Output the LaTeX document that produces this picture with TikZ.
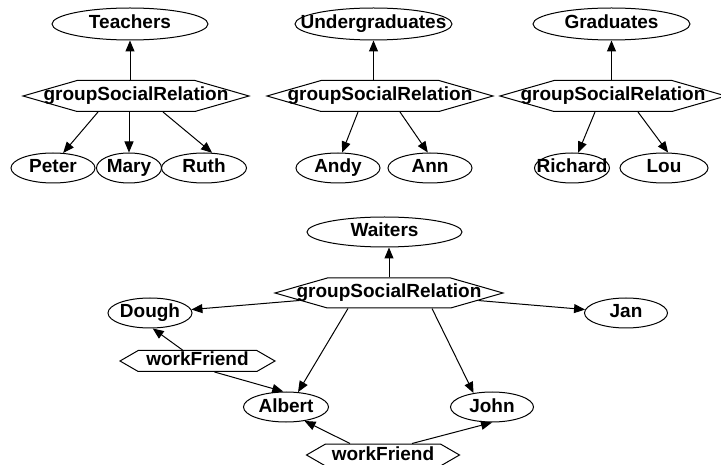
\documentclass[tikz,border=0pt]{standalone}
\usepackage{fontspec}
\setmainfont{Liberation Sans}
\usetikzlibrary{shapes.geometric, shapes.symbols, arrows.meta}
\newcommand{\nm}[1]{\makebox[0pt]{#1}}
\tikzstyle{class} = [ellipse, draw, line width=1pt, inner sep=0pt, minimum width=156pt, minimum height=32pt, text height=14pt, text depth=4pt, font=\fontsize{19}{22}\selectfont\bfseries]
\tikzstyle{member} = [class, minimum width=84pt, minimum height=30pt]
\tikzstyle{relation} = [signal, signal to=west and east, signal pointer angle=32, draw, line width=1pt, inner sep=0pt, minimum width=226pt, minimum height=31pt, text height=14pt, text depth=4pt, font=\fontsize{19}{22}\selectfont\bfseries]
\tikzstyle{friend} = [relation, signal pointer angle=60, minimum width=155pt, minimum height=21pt]
\tikzstyle{arrow} = [line width=1pt, -{Triangle[length=11pt, width=9pt]}]

\begin{document}
\begin{tikzpicture}[x=1pt, y=-1pt]
    \useasboundingbox (0,0) rectangle (721,465);
    % teachers
    \node (teachers)[class] at (130,24) {\nm{Teachers}};
    \node (gsrT)[relation] at (136,96) {\nm{groupSocialRelation}};
    \node (peter)[member] at (53,168) {\nm{Peter}};
    \node (mary)[member, minimum width=65pt] at (129,168) {\nm{Mary}};
    \node (ruth)[member, minimum width=85pt] at (204,168) {\nm{Ruth}};
    \draw [arrow] (gsrT.north -| teachers) -- (teachers);
    \draw [arrow] ([xshift=-38pt]gsrT.south) -- (peter.56);
    \draw [arrow] (gsrT.south -| mary) -- (mary);
    \draw [arrow] ([xshift=27pt]gsrT.south) -- (ruth.62);
    % undergraduates
    \node (under)[class, minimum width=157pt] at (373.5,24) {\nm{Undergraduates}};
    \node (gsrU)[relation] at (380,96) {\nm{groupSocialRelation}};
    \node (andy)[member] at (338,168) {\nm{Andy}};
    \node (ann)[member] at (430,168) {\nm{Ann}};
    \draw [arrow] (gsrU.north -| under) -- (under);
    \draw [arrow] ([xshift=-22pt]gsrU.south) -- (andy.75);
    \draw [arrow] ([xshift=20pt]gsrU.south) -- (ann.98);
    % graduates
    \node (grad)[class, minimum width=157pt] at (611.5,24) {\nm{Graduates}};
    \node (gsrG)[relation] at (613,96) {\nm{groupSocialRelation}};
    \node (richard)[member, minimum width=75pt] at (572,168) {\nm{Richard}};
    \node (lou)[member, minimum width=88pt] at (664,168) {\nm{Lou}};
    \draw [arrow] (gsrG.north -| grad) -- (grad);
    \draw [arrow] ([xshift=-18pt]gsrG.south) -- (richard.68);
    \draw [arrow] ([xshift=25pt]gsrG.south) -- (lou.75);
    % waiters
    \node (waiters)[class, minimum width=155pt, minimum height=30pt] at (384.5,232) {\nm{Waiters}};
    \node (gsrW)[relation, minimum width=228pt, minimum height=30pt] at (389,293) {\nm{groupSocialRelation}};
    \node (dough)[member] at (150,313) {\nm{Dough}};
    \node (jan)[member, minimum width=83pt] at (626,313) {\nm{Jan}};
    \node (wfA)[friend] at (197.5,361) {\nm{workFriend}};
    \node (albert)[member, minimum width=85pt] at (286,407) {\nm{Albert}};
    \node (john)[member, minimum width=83pt] at (492,407) {\nm{John}};
    \node (wfB)[friend, minimum width=153pt, minimum height=22pt] at (383,455) {\nm{workFriend}};
    \draw [arrow] (gsrW.north) -- (gsrW.north |- waiters.south);
    \draw [arrow] (gsrW) -- (dough);
    \draw [arrow] (gsrW) -- (jan);
    \draw [arrow] ([xshift=-41pt]gsrW.south) -- (albert.51);
    \draw [arrow] ([xshift=43pt]gsrW.south) -- (john.143);
    \draw [arrow] ([xshift=-15pt]wfA.north) -- (dough.-80);
    \draw [arrow] ([xshift=17pt]wfA.south) -- (albert.100);
    \draw [arrow] ([xshift=-33pt]wfB.north) -- (albert.-37);
    \draw [arrow] ([xshift=29pt]wfB.north) -- (john.south);
\end{tikzpicture}
\end{document}
